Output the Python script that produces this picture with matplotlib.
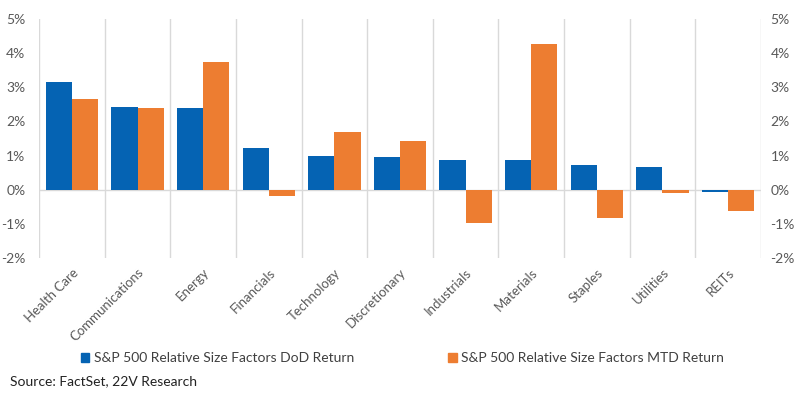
import numpy as np
import matplotlib
matplotlib.use('Agg')
import matplotlib.pyplot as plt
from matplotlib.patches import Patch

# 数据
categories = ['Health Care', 'Communications', 'Energy', 'Financials', 'Technology',
              'Discretionary', 'Industrials', 'Materials', 'Staples', 'Utilities', 'REITs']
dod_return = [3.17, 2.42, 2.38, 1.21, 0.99, 0.97, 0.86, 0.86, 0.72, 0.67, -0.07]
mtd_return = [2.67, 2.40, 3.73, -0.20, 1.68, 1.43, -0.99, 4.27, -0.83, -0.10, -0.63]
yticks = [-2, -1, 0, 1, 2, 3, 4, 5]

blue = '#0563b3'
orange = '#ed7d31'
grey = '#595959'

plt.rcParams['font.family'] = ['Lato', 'DejaVu Sans']

fig = plt.figure(figsize=(8, 3.98), dpi=100)
ax = fig.add_axes([0.049, 0.352, 0.902, 0.600])

x = np.arange(len(categories))
w = 0.4
ax.bar(x - w / 2, dod_return, w, color=blue, zorder=3)
ax.bar(x + w / 2, mtd_return, w, color=orange, zorder=3)

ax.set_xlim(-0.5, len(categories) - 0.5)
ax.set_ylim(-2, 5)

# 竖向网格线（类别分隔）
for b in np.arange(-0.5, len(categories), 1.0):
    ax.axvline(b, color='#d9d9d9', lw=1, zorder=1)
ax.axhline(0, color='#d9d9d9', lw=1, zorder=2)

for s in ax.spines.values():
    s.set_visible(False)

ax.set_yticks(yticks)
ax.set_yticklabels(['%d%%' % t for t in yticks], color=grey, fontsize=10)
ax.tick_params(axis='y', length=0, pad=10)
ax.set_xticks(x)
ax.set_xticklabels(categories, rotation=45, ha='right', rotation_mode='anchor',
                   color=grey, fontsize=9.5)
ax.tick_params(axis='x', length=0, pad=6)

ax2 = ax.twinx()
ax2.set_ylim(-2, 5)
ax2.set_yticks(yticks)
ax2.set_yticklabels(['%d%%' % t for t in yticks], color=grey, fontsize=10)
ax2.tick_params(axis='y', length=0, pad=7)
for s in ax2.spines.values():
    s.set_visible(False)

handles = [Patch(color=blue, label='S&P 500 Relative Size Factors DoD Return'),
           Patch(color=orange, label='S&P 500 Relative Size Factors MTD Return')]
fig.legend(handles=handles, loc='center', bbox_to_anchor=(0.503, 0.1), ncol=2,
           frameon=False, fontsize=10, handlelength=0.6, handleheight=0.6,
           handletextpad=0.3, columnspacing=6.8, labelcolor='#404040')

fig.text(0.012, 0.032, 'Source: FactSet, 22V Research', fontsize=10, color='#222222')

fig.savefig('out.png', dpi=100)
